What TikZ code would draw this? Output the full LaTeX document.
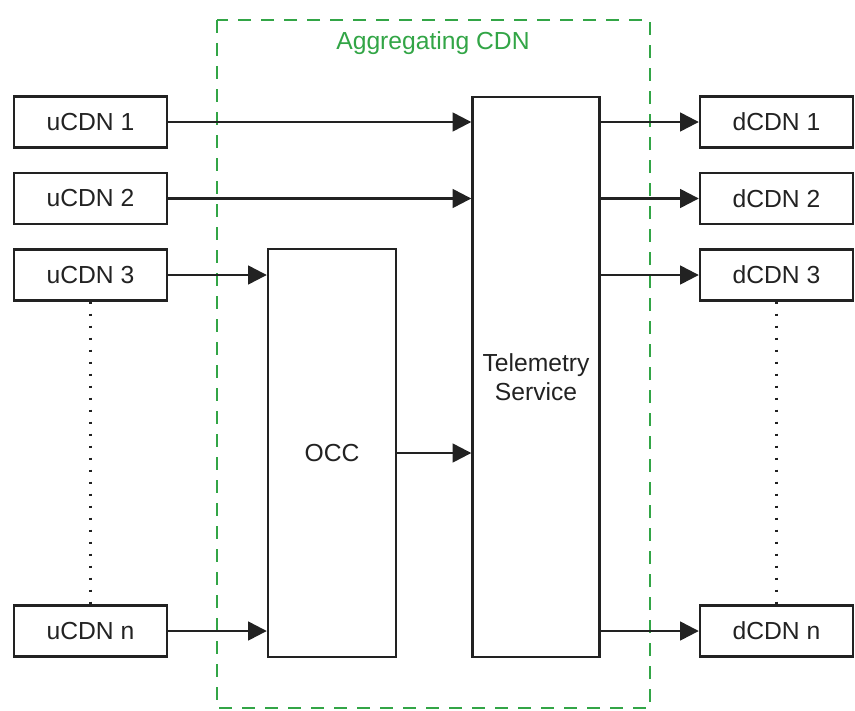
\documentclass[tikz,border=0pt]{standalone}
\usepackage{fontspec}
\setmainfont{Liberation Sans}
\usetikzlibrary{arrows.meta}
\definecolor{aggrgreen}{RGB}{50,165,70}
\definecolor{inkgrey}{RGB}{34,34,34}
\begin{document}
\begin{tikzpicture}[x=0.75pt, y=-0.75pt, color=inkgrey,
    cdnbox/.style={draw, line width=1.8pt, inner sep=0pt,
      minimum width=114.75pt, minimum height=38.25pt,
      font=\fontsize{18.5}{22}\selectfont},
    svcbox/.style={draw, line width=1.8pt, inner sep=0pt, align=center,
      font=\fontsize{18.5}{22}\selectfont},
    flow/.style={line width=1.8pt, -{Triangle[length=14pt, width=14pt]}},
    gap/.style={line width=2pt, dash pattern=on 2pt off 7pt},
    aggr/.style={draw=aggrgreen, line width=2.2pt, dash pattern=on 9.75pt off 7.5pt}]
  \useasboundingbox (0,0) rectangle (855,710);
  % aggregating CDN frame
  \draw[aggr] (217,20) rectangle (650,708);
  \node[text=aggrgreen, font=\fontsize{18.5}{22}\selectfont] (aggrlabel) at (433,43) {Aggregating CDN};
  % upstream CDNs
  \node[cdnbox] (u1) at (90.5,122) {uCDN 1};
  \node[cdnbox] (u2) at (90.5,198.5) {uCDN 2};
  \node[cdnbox] (u3) at (90.5,275) {uCDN 3};
  \node[cdnbox] (un) at (90.5,631) {uCDN n};
  % downstream CDNs
  \node[cdnbox] (d1) at (776.5,122) {dCDN 1};
  \node[cdnbox] (d2) at (776.5,198.5) {dCDN 2};
  \node[cdnbox] (d3) at (776.5,275) {dCDN 3};
  \node[cdnbox] (dn) at (776.5,631) {dCDN n};
  % inside the aggregating CDN
  \node[svcbox, minimum width=96pt, minimum height=306pt] (occ) at (332,453) {OCC};
  \node[svcbox, minimum width=95.25pt, minimum height=420pt] (tel) at (536,377) {Telemetry\\Service};
  % flows
  \draw[flow] (u1.east) -- (u1.east -| tel.west);
  \draw[flow] (u2.east) -- (u2.east -| tel.west);
  \draw[flow] (u3.east) -- (u3.east -| occ.west);
  \draw[flow] (un.east) -- (un.east -| occ.west);
  \draw[flow] (occ.east) -- (occ.east -| tel.west);
  \foreach \d in {d1,d2,d3,dn}
    \draw[flow] (tel.east |- \d.west) -- (\d.west);
  % more CDNs
  \draw[gap] (u3.south) -- (un.north);
  \draw[gap] (d3.south) -- (dn.north);
\end{tikzpicture}
\end{document}
